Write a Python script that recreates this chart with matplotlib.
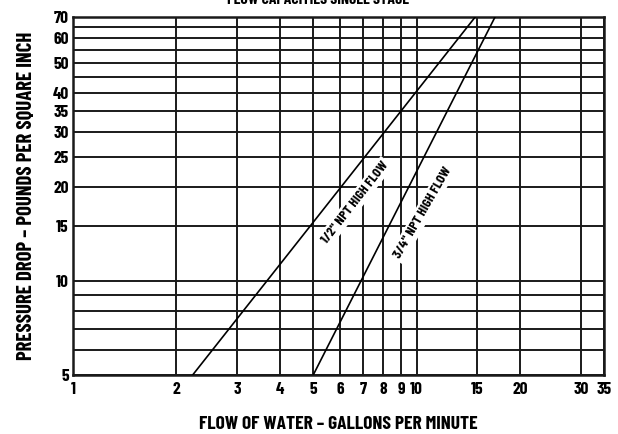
import matplotlib
matplotlib.use('Agg')
import matplotlib.pyplot as plt
from matplotlib.ticker import FixedLocator, NullLocator

plt.rcParams['font.family'] = ['Barlow Condensed', 'DejaVu Sans']
plt.rcParams['font.weight'] = 'bold'
plt.rcParams['axes.labelweight'] = 'bold'

# grid / tick values
x_grid = [1, 2, 3, 4, 5, 6, 7, 8, 9, 10, 15, 20, 30, 35]
x_labels = ['1', '2', '3', '4', '5', '6', '7', '8', '9', '10', '15', '20', '30', '35']
y_grid = [5, 6, 7, 8, 9, 10, 15, 20, 25, 30, 35, 40, 45, 50, 55, 60, 65, 70]
y_ticks = [5, 10, 15, 20, 25, 30, 35, 40, 50, 60, 70]

# flow lines (gpm, psi)
half_flow = [2.23, 14.8]
half_psi = [5, 70]
threeq_flow = [5.0, 16.9]
threeq_psi = [5, 70]

fig = plt.figure(figsize=(6.18, 4.34), dpi=100)
ax = fig.add_axes([0.118, 0.136, 0.859, 0.825])
ax.set_xscale('log')
ax.set_yscale('log')
ax.set_xlim(1, 35)
ax.set_ylim(5, 70)

for v in x_grid:
    ax.axvline(v, color='#1a1a1a', lw=1.4, zorder=1)
for v in y_grid:
    ax.axhline(v, color='#1a1a1a', lw=1.4, zorder=1)

ax.plot(half_flow, half_psi, color='black', lw=1.2, zorder=4)
ax.plot(threeq_flow, threeq_psi, color='black', lw=1.2, zorder=4)

box = dict(facecolor='white', edgecolor='none', pad=2)
ax.text(6.6, 17.8, '1/2" NPT HIGH FLOW', rotation=52, ha='center', va='center',
        fontsize=10, bbox=box, zorder=3)
ax.text(10.4, 16.5, '3/4" NPT HIGH FLOW', rotation=60, ha='center', va='center',
        fontsize=10, bbox=box, zorder=3)

ax.xaxis.set_major_locator(FixedLocator(x_grid))
ax.xaxis.set_minor_locator(NullLocator())
ax.set_xticklabels(x_labels)
ax.yaxis.set_major_locator(FixedLocator(y_ticks))
ax.yaxis.set_minor_locator(NullLocator())
ax.set_yticklabels([str(v) for v in y_ticks])
ax.tick_params(length=0, labelsize=12.5, pad=3)
ax.tick_params(axis='x', pad=5)

for s in ax.spines.values():
    s.set_linewidth(1.8)
    s.set_color('#1a1a1a')

ax.set_xlabel('FLOW OF WATER – GALLONS PER MINUTE', fontsize=14, labelpad=14)
ax.set_ylabel('PRESSURE DROP – POUNDS PER SQUARE INCH', fontsize=15, labelpad=12)
# title sits partly above the top edge, as in the source
fig.text(0.515, 1 - 4 / 434, 'FLOW CAPACITIES SINGLE STAGE', ha='center', va='baseline', fontsize=11.3)

fig.savefig('out.png', dpi=100)
